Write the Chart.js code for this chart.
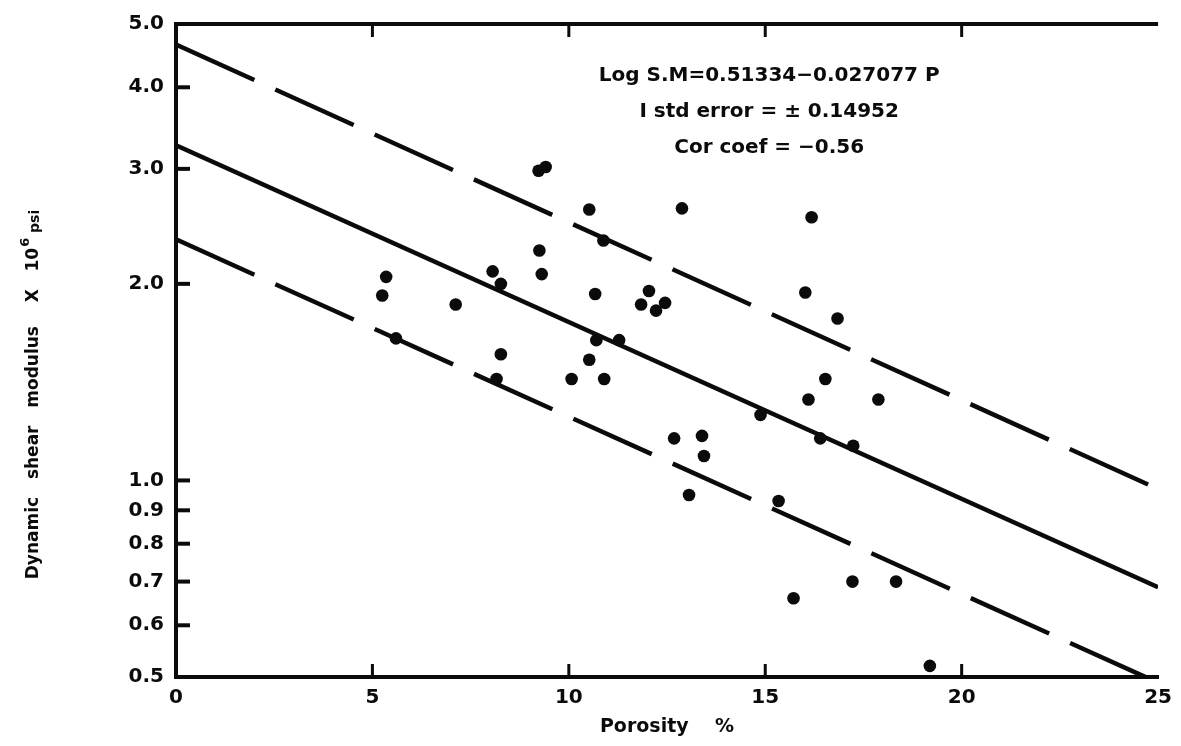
<!DOCTYPE html>
<html>
<head>
<meta charset="utf-8">
<script src="https://cdn.jsdelivr.net/npm/chart.js@4/dist/chart.umd.min.js"></script>
<style>
  html, body { margin: 0; padding: 0; background: #fff; }
  #wrap { width: 1181px; height: 746px; }
</style>
</head>
<body>
<div id="wrap"><canvas id="chart"></canvas></div>
<script>
// ---- data ----
const porosity = [
  5.25, 5.35, 5.60, 7.12, 8.06, 8.27, 8.27, 8.16, 9.25, 9.31, 9.23, 9.41,
  10.07, 10.52, 10.90, 10.52, 10.88, 10.67, 10.70, 11.28, 12.04, 11.84, 12.45, 12.22,
  12.88, 12.68, 13.39, 13.44, 13.06, 14.88, 15.34, 16.18, 16.02, 16.84, 16.53, 16.10,
  17.88, 16.40, 17.24, 17.22, 18.33, 15.72, 19.19
];
const shearModulus = [
  1.92, 2.05, 1.65, 1.86, 2.09, 2.00, 1.56, 1.43, 2.25, 2.07, 2.98, 3.02,
  1.43, 1.53, 1.43, 2.60, 2.33, 1.93, 1.64, 1.64, 1.95, 1.86, 1.87, 1.82,
  2.61, 1.16, 1.17, 1.09, 0.95, 1.26, 0.93, 2.53, 1.94, 1.77, 1.43, 1.33,
  1.33, 1.16, 1.13, 0.70, 0.70, 0.66, 0.52
];

// regression line and +/- 1 std error band (end values)
const fitPorosity = [0, 25];
const fitMid   = [3.26, 0.686];
const fitUpper = [4.65, 0.97];
const fitLower = [2.34, 0.49];

const xTicks = [0, 5, 10, 15, 20, 25];
const yTicks = [0.5, 0.6, 0.7, 0.8, 0.9, 1.0, 2.0, 3.0, 4.0, 5.0];

const noteLines = [
  "Log S.M=0.51334\u22120.027077 P",
  "I std error = \u00b1 0.14952",
  "Cor coef = \u22120.56"
];
// y title pieces: main text, superscript, unit
const yTitle = ["Dynamic   shear   modulus    X   10", "6", " psi"];

const INK = "#0b0b0b";
const FONT = "'DejaVu Sans', sans-serif";

function linePoints(ys) {
  return fitPorosity.map((x, i) => ({ x, y: ys[i] }));
}

// inward ticks, top frame line, y title and the note text
const frame = {
  id: "frame",
  afterDraw(c) {
    const ctx = c.ctx, a = c.chartArea;
    const xs = c.scales.x, ys = c.scales.y;
    ctx.save();
    ctx.strokeStyle = INK;
    ctx.lineCap = "butt";

    // top border
    ctx.lineWidth = 4;
    ctx.beginPath();
    ctx.moveTo(a.left - 2, a.top);
    ctx.lineTo(a.right, a.top);
    ctx.stroke();

    // y ticks (pointing inward)
    ctx.lineWidth = 4;
    yTicks.slice(1, -1).forEach(v => {
      const py = ys.getPixelForValue(v);
      ctx.beginPath();
      ctx.moveTo(a.left, py);
      ctx.lineTo(a.left + 14, py);
      ctx.stroke();
    });

    // x ticks, bottom and top
    ctx.lineWidth = 3;
    xTicks.slice(1, -1).forEach(v => {
      const px = xs.getPixelForValue(v);
      ctx.beginPath();
      ctx.moveTo(px, a.bottom);
      ctx.lineTo(px, a.bottom - 13);
      ctx.moveTo(px, a.top);
      ctx.lineTo(px, a.top + 13);
      ctx.stroke();
    });

    ctx.fillStyle = INK;

    // y axis title with superscript
    ctx.save();
    ctx.translate(34, 395);
    ctx.rotate(-Math.PI / 2);
    ctx.textBaseline = "middle";
    ctx.textAlign = "left";
    const fMain = "bold 17px " + FONT, fSup = "bold 13px " + FONT, fUnit = "bold 14px " + FONT;
    ctx.font = fMain; const w1 = ctx.measureText(yTitle[0]).width;
    ctx.font = fSup;  const w2 = ctx.measureText(yTitle[1]).width;
    ctx.font = fUnit; const w3 = ctx.measureText(yTitle[2]).width;
    let tx = -(w1 + w2 + w3) / 2;
    ctx.font = fMain; ctx.fillText(yTitle[0], tx, 0); tx += w1;
    ctx.font = fSup;  ctx.fillText(yTitle[1], tx + 1, -8); tx += w2 + 1;
    ctx.font = fUnit; ctx.fillText(yTitle[2], tx, 1);
    ctx.restore();

    // regression note
    ctx.font = "bold 20px " + FONT;
    ctx.textAlign = "center";
    ctx.textBaseline = "middle";
    const cx = xs.getPixelForValue(15.1);
    noteLines.forEach((t, i) => {
      ctx.fillText(t, cx, a.top + 52 + i * 36);
    });
    ctx.restore();
  }
};

const dashed = [86, 23];

new Chart(document.getElementById("chart"), {
  type: "scatter",
  data: {
    datasets: [
      {
        type: "line",
        data: linePoints(fitMid),
        borderColor: INK,
        borderWidth: 4.5,
        pointRadius: 0,
        fill: false
      },
      {
        type: "line",
        data: linePoints(fitUpper),
        borderColor: INK,
        borderWidth: 4.5,
        borderDash: dashed,
        pointRadius: 0,
        fill: false
      },
      {
        type: "line",
        data: linePoints(fitLower),
        borderColor: INK,
        borderWidth: 4.5,
        borderDash: dashed,
        pointRadius: 0,
        fill: false
      },
      {
        data: porosity.map((x, i) => ({ x, y: shearModulus[i] })),
        backgroundColor: INK,
        borderColor: INK,
        borderWidth: 0,
        pointRadius: 6.3
      }
    ]
  },
  options: {
    responsive: true,
    maintainAspectRatio: false,
    animation: false,
    events: [],
    layout: { padding: { left: 0, top: 20, right: 19, bottom: 0 } },
    plugins: {
      legend: { display: false },
      tooltip: { enabled: false }
    },
    scales: {
      x: {
        type: "linear",
        min: 0,
        max: 25,
        afterBuildTicks: s => { s.ticks = xTicks.map(v => ({ value: v })); },
        afterFit: s => { s.height = 69; },
        grid: { drawOnChartArea: false, drawTicks: false },
        border: { color: INK, width: 4 },
        ticks: {
          color: INK,
          padding: 9,
          maxRotation: 0,
          font: { family: FONT, size: 20, weight: "bold" },
          callback: v => String(v)
        },
        title: {
          display: true,
          text: "Porosity    %",
          color: INK,
          font: { family: FONT, size: 19, weight: "bold" },
          padding: { top: 2, bottom: 8 }
        }
      },
      y: {
        type: "logarithmic",
        min: 0.5,
        max: 5,
        afterBuildTicks: s => { s.ticks = yTicks.map(v => ({ value: v })); },
        afterFit: s => { s.width = 176; },
        grid: { drawOnChartArea: false, drawTicks: false },
        border: { color: INK, width: 4 },
        ticks: {
          color: INK,
          padding: 12,
          autoSkip: false,
          font: { family: FONT, size: 20, weight: "bold" },
          callback: v => Number(v).toFixed(1)
        }
      }
    }
  },
  plugins: [frame]
});
</script>
</body>
</html>
